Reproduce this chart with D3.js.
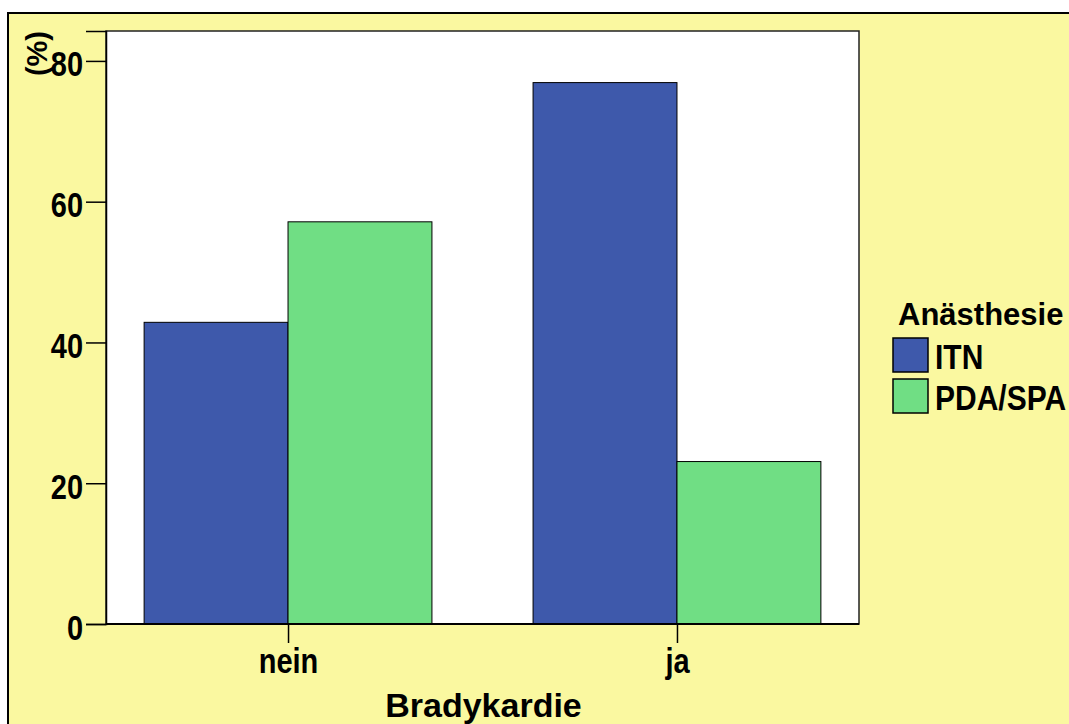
<!DOCTYPE html>
<html>
<head>
<meta charset="utf-8">
<script src="https://cdn.jsdelivr.net/npm/d3@7"></script>
<style>
  body { margin: 0; background: #fff; }
  text { font-family: "Liberation Sans", Arial, sans-serif; font-weight: bold; fill: #000; }
</style>
</head>
<body>
<svg width="1069" height="724"></svg>
<script>
// data
const categories = ['nein', 'ja'];
const groups = ['ITN', 'PDA/SPA'];
const itnValues = [42.86, 76.92];
const pdaValues = [57.14, 23.08];
const yTicks = [0, 20, 40, 60, 80];
const colors = ['#3e59ab', '#70de84'];

const svg = d3.select('svg');

// the original's labels are a bit taller than plain Arial, stretch them a little
const stretch = 1.18;

// outer yellow panel (runs off the right and bottom edges)
svg.append('rect')
  .attr('x', 8).attr('y', 13)
  .attr('width', 1100).attr('height', 760)
  .attr('fill', '#faf8a0')
  .attr('stroke', '#000').attr('stroke-width', 2);

const plotL = 106, plotR = 859, plotT = 31, plotB = 624;

// plot background
svg.append('rect')
  .attr('x', plotL).attr('y', plotT)
  .attr('width', plotR - plotL).attr('height', plotB - plotT)
  .attr('fill', '#fff')
  .attr('stroke', '#222').attr('stroke-width', 1.5);

const x = d3.scaleBand()
  .domain(categories)
  .range([plotL, plotR])
  .paddingInner(0.26)
  .paddingOuter(0.098);

const xInner = d3.scaleBand()
  .domain(groups)
  .range([0, x.bandwidth()]);

const y = d3.scaleLinear()
  .domain([0, 84.25])
  .range([plotB, plotT]);

const rows = categories.map((c, i) => ({ cat: c, vals: [itnValues[i], pdaValues[i]] }));

const g = svg.selectAll('g.cat')
  .data(rows)
  .enter().append('g')
  .attr('class', 'cat')
  .attr('transform', d => `translate(${x(d.cat)},0)`);

g.selectAll('rect')
  .data(d => d.vals.map((v, j) => ({ grp: groups[j], v: v, j: j })))
  .enter().append('rect')
  .attr('x', d => xInner(d.grp))
  .attr('y', d => y(d.v))
  .attr('width', xInner.bandwidth())
  .attr('height', d => y(0) - y(d.v))
  .attr('fill', d => colors[d.j])
  .attr('stroke', '#000')
  .attr('stroke-width', 1);

// y axis
const yAxis = svg.append('g')
  .attr('transform', `translate(${plotL},0)`)
  .call(d3.axisLeft(y).tickValues(yTicks).tickSize(20).tickPadding(3).tickFormat(d3.format('d')));
yAxis.select('.domain').attr('stroke', '#000').attr('stroke-width', 1.5);
yAxis.selectAll('.tick line').attr('stroke', '#000').attr('stroke-width', 1.5);
yAxis.selectAll('text')
  .style('font-size', '29px')
  .attr('dy', 0)
  .attr('y', 15 / stretch)
  .attr('transform', `scale(1,${stretch})`);

// x axis
const xAxis = svg.append('g')
  .attr('transform', `translate(0,${plotB})`)
  .call(d3.axisBottom(d3.scalePoint().domain(categories)
      .range([x('nein') + x.bandwidth() / 2, x('ja') + x.bandwidth() / 2]))
    .tickSize(19).tickPadding(8).tickSizeOuter(0));
xAxis.select('.domain').remove();
xAxis.selectAll('.tick line').attr('stroke', '#000').attr('stroke-width', 1.5);
xAxis.selectAll('text')
  .style('font-size', '29px')
  .attr('dy', 0)
  .attr('y', 49 / stretch)
  .attr('transform', `scale(1,${stretch})`);

svg.append('line')
  .attr('x1', plotL).attr('x2', plotR)
  .attr('y1', plotB).attr('y2', plotB)
  .attr('stroke', '#000').attr('stroke-width', 2);

// axis titles
svg.append('text')
  .attr('x', (plotL + plotR) / 2 + 1)
  .attr('y', 717)
  .attr('text-anchor', 'middle')
  .style('font-size', '34px')
  .text('Bradykardie');

svg.append('text')
  .attr('transform', 'translate(47,31) rotate(-90)')
  .attr('text-anchor', 'end')
  .style('font-size', '29px')
  .text('(%)');

// legend
const legend = svg.append('g');
legend.append('text')
  .attr('x', 898).attr('y', 325)
  .style('font-size', '31px')
  .text('Anästhesie');

const items = legend.selectAll('g.item')
  .data(groups)
  .enter().append('g')
  .attr('class', 'item')
  .attr('transform', (d, i) => `translate(893,${338 + i * 41})`);

items.append('rect')
  .attr('width', 35).attr('height', 34)
  .attr('fill', (d, i) => colors[i])
  .attr('stroke', '#000').attr('stroke-width', 1.5);

items.append('text')
  .attr('transform', `translate(42,31) scale(1,1.15)`)
  .style('font-size', '30px')
  .text(d => d);
</script>
</body>
</html>
